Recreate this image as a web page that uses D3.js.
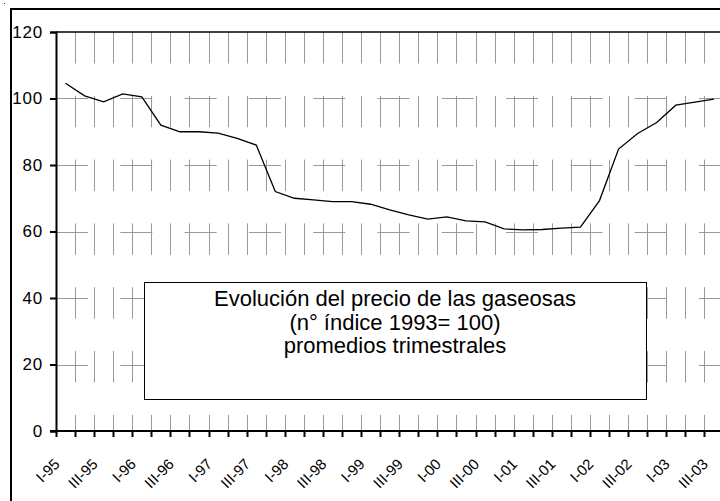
<!DOCTYPE html>
<html>
<head>
<meta charset="utf-8">
<script src="https://cdn.jsdelivr.net/npm/d3@7"></script>
<style>
  body { margin: 0; background: #fff; }
  text { font-family: Arial, "Liberation Sans", sans-serif; }
</style>
</head>
<body>
<div id="chart"></div>
<script>
// quarters I-95 .. III-03
var quarters = ["I-95","II-95","III-95","IV-95","I-96","II-96","III-96","IV-96",
  "I-97","II-97","III-97","IV-97","I-98","II-98","III-98","IV-98",
  "I-99","II-99","III-99","IV-99","I-00","II-00","III-00","IV-00",
  "I-01","II-01","III-01","IV-01","I-02","II-02","III-02","IV-02",
  "I-03","II-03","III-03"];

// indice precio gaseosas (1993 = 100)
var precio = [104.6, 100.8, 99.0, 101.4, 100.5, 92.0, 90.0, 90.0,
  89.6, 88.0, 86.0, 72.0, 70.0, 69.5, 69.0, 69.0,
  68.2, 66.5, 65.0, 63.7, 64.4, 63.2, 62.9, 60.8,
  60.5, 60.6, 61.0, 61.3, 69.3, 84.8, 89.5, 92.8,
  98.0, 98.9, 99.8];

var yTicks = [0, 20, 40, 60, 80, 100, 120];

var titleLines = ["Evolución del precio de las gaseosas",
  "(n° índice 1993= 100)",
  "promedios trimestrales"];

var W = 720, H = 501;
var plotL = 56, plotT = 32, plotB = 431;
var step = 19.07;

var svg = d3.select("#chart").append("svg")
  .attr("width", W)
  .attr("height", H);

var x = d3.scaleBand()
  .domain(quarters)
  .range([plotL, plotL + step * quarters.length])
  .paddingInner(0).paddingOuter(0);

var y = d3.scaleLinear()
  .domain([0, 120])
  .range([plotB, plotT]);

// outer chart border (only top/left visible)
svg.append("line").attr("x1", 11).attr("x2", W).attr("y1", 9).attr("y2", 9)
  .attr("stroke", "#000").attr("stroke-width", 2);
svg.append("line").attr("x1", 11).attr("x2", 11).attr("y1", 8).attr("y2", H)
  .attr("stroke", "#000").attr("stroke-width", 2);
svg.append("rect").attr("x", 4).attr("y", 3).attr("width", 1).attr("height", 1).attr("fill", "#333");

// horizontal gridlines
svg.append("g").selectAll("line.hg")
  .data(yTicks.filter(function (d) { return d > 0 && d < 120; }))
  .enter().append("line")
  .attr("class", "hg")
  .attr("x1", plotL).attr("x2", W)
  .attr("y1", function (d) { return Math.round(y(d)) + 0.5; })
  .attr("y2", function (d) { return Math.round(y(d)) + 0.5; })
  .attr("stroke", "#999").attr("stroke-width", 1)
  .attr("stroke-dasharray", "32,32.3");

// vertical gridlines at category boundaries
svg.append("g").selectAll("line.vg")
  .data(quarters.slice(1))
  .enter().append("line")
  .attr("class", "vg")
  .attr("x1", function (d) { return Math.round(x(d)) + 0.5; })
  .attr("x2", function (d) { return Math.round(x(d)) + 0.5; })
  .attr("y1", plotT).attr("y2", plotB)
  .attr("stroke", "#999").attr("stroke-width", 1)
  .attr("stroke-dasharray", "31.5,32.3");

// plot area top border
svg.append("line").attr("x1", plotL).attr("x2", W).attr("y1", plotT).attr("y2", plotT)
  .attr("stroke", "#000").attr("stroke-width", 1.5);

// data line
var line = d3.line()
  .x(function (d, i) { return x(quarters[i]) + x.bandwidth() / 2; })
  .y(function (d) { return y(d); });

svg.append("path")
  .datum(precio)
  .attr("d", line)
  .attr("fill", "none")
  .attr("stroke", "#000")
  .attr("stroke-width", 1.3);

// y axis
var yAxis = svg.append("g")
  .attr("transform", "translate(" + plotL + ",0)")
  .call(d3.axisLeft(y).tickValues(yTicks).tickSize(6).tickPadding(7));
yAxis.select(".domain").attr("stroke", "#000").attr("stroke-width", 2);
yAxis.selectAll(".tick line").attr("stroke", "#000").attr("stroke-width", 2);
yAxis.selectAll(".tick text")
  .attr("font-size", "17px").attr("fill", "#000")
  .attr("letter-spacing", "0.8px")
  .style("font-family", "Arial, 'Liberation Sans', sans-serif");

// x axis
svg.append("line").attr("x1", plotL - 6).attr("x2", W).attr("y1", plotB).attr("y2", plotB)
  .attr("stroke", "#000").attr("stroke-width", 2);
svg.append("g").selectAll("line.xt")
  .data(quarters)
  .enter().append("line")
  .attr("class", "xt")
  .attr("x1", function (d) { return Math.round(x(d)) + 0.5; })
  .attr("x2", function (d) { return Math.round(x(d)) + 0.5; })
  .attr("y1", plotB).attr("y2", plotB + 6)
  .attr("stroke", "#000").attr("stroke-width", 2);

svg.append("g").selectAll("text.xl")
  .data(quarters.filter(function (d, i) { return i % 2 === 0; }))
  .enter().append("text")
  .attr("class", "xl")
  .attr("text-anchor", "end")
  .attr("font-size", "15px")
  .attr("transform", function (d) {
    var cx = x(d) + x.bandwidth() / 2 - 5;
    return "translate(" + cx + "," + (plotB + 34) + ") rotate(-45)";
  })
  .text(function (d) { return d; });

// text box
var bx = 144, by = 282, bw = 502, bh = 117;
svg.append("rect")
  .attr("x", bx + 0.5).attr("y", by + 0.5)
  .attr("width", bw).attr("height", bh)
  .attr("fill", "#fff").attr("stroke", "#000").attr("stroke-width", 1);

svg.append("g").selectAll("text.tt")
  .data(titleLines)
  .enter().append("text")
  .attr("class", "tt")
  .attr("text-anchor", "middle")
  .attr("x", bx + bw / 2)
  .attr("y", function (d, i) { return 306 + i * 23.5; })
  .attr("font-size", "22px")
  .text(function (d) { return d; });
</script>
</body>
</html>
